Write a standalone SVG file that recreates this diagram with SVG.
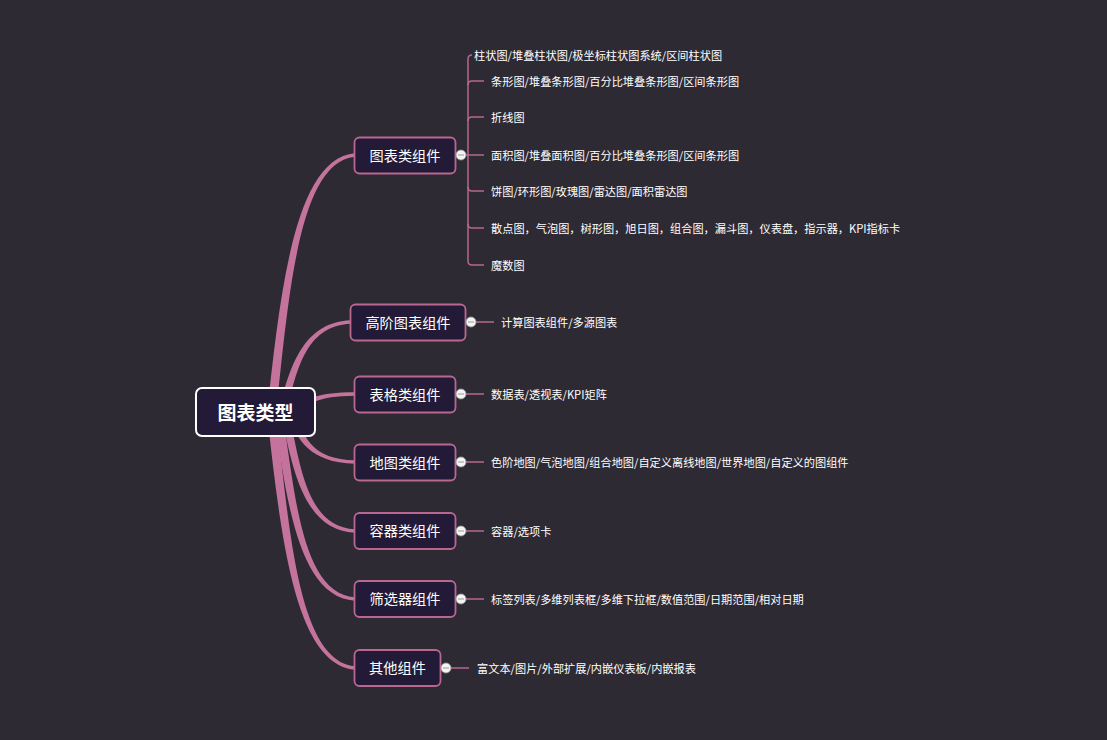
<svg xmlns="http://www.w3.org/2000/svg" width="1107" height="740" viewBox="0 0 1107 740">
<style>
.bg{fill:#2e2a33}
.curve{fill:#c4739c}
.node rect{fill:#221a36;stroke:#b9678f;stroke-width:1.8}
.node text{fill:#ffffff;font-family:"Noto Sans CJK SC","Liberation Sans",sans-serif;font-size:14.2px;text-anchor:middle;dominant-baseline:central}
.root rect{fill:#221a36;stroke:#ffffff;stroke-width:2}
.root text{fill:#ffffff;font-family:"Noto Sans CJK SC","Liberation Sans",sans-serif;font-size:19px;font-weight:bold;text-anchor:middle;dominant-baseline:central}
.leafline{fill:none;stroke:#b9678f;stroke-width:1.5}
.leaf{fill:#ffffff;font-family:"Noto Sans CJK SC","Liberation Sans",sans-serif;font-size:11.2px;dominant-baseline:central}
.knob circle{fill:#f4f4f4;stroke:#9a9a9a;stroke-width:0.8}
.knob line{stroke:#9a9a9a;stroke-width:1}
</style>
<rect class="bg" x="0" y="0" width="1107" height="740"/>

<g id="connectors">
  <path class="curve" d="M266.5,418 C279.9,294.4 293.95,158.5 355,153.3 L355,156.7 C298.45,162.1 288.9,294.4 275.5,418 Z"/>
  <path class="curve" d="M277,418 C288.2,372.9 300,322.2 351,320.3 L351,323.7 C304,325.6 296.2,372.9 285,418 Z"/>
  <path class="curve" d="M300,405 C308.8,398.4 316.5,392.6 355,392.3 L355,395.7 C316.5,396 308.8,404.4 300,411 Z"/>
  <path class="curve" d="M288,418 C298.1,438.7 308.9,462.8 355,463.7 L355,460.3 C312.9,459.4 306.1,438.7 296,418 Z"/>
  <path class="curve" d="M282,418 C293,471.1 304.6,530.4 355,532.7 L355,529.3 C308.8,527 301,471.1 290,418 Z"/>
  <path class="curve" d="M274.6,418 C286.8,503.1 299.6,597.1 355,600.7 L355,597.3 C304,593.7 295.6,503.1 283.4,418 Z"/>
  <path class="curve" d="M267.5,418 C280.8,535.5 294.65,664.7 355,669.7 L355,666.3 C299.15,661.3 289.8,535.5 276.5,418 Z"/>

  <path class="leafline" d="M472,55 Q468,55 468,59 V261 Q468,265 472,265 H484"/>
  <path class="leafline" d="M484,81 H472 Q468,81 468,85"/>
  <path class="leafline" d="M484,117 H472 Q468,117 468,121"/>
  <path class="leafline" d="M466,155 H484"/>
  <path class="leafline" d="M468,187 Q468,191 472,191 H484"/>
  <path class="leafline" d="M468,224 Q468,228 472,228 H484"/>

  <path class="leafline" d="M476,322 H494"/>
  <path class="leafline" d="M466,394 H484"/>
  <path class="leafline" d="M466,462 H484"/>
  <path class="leafline" d="M466,531 H484"/>
  <path class="leafline" d="M466,599 H484"/>
  <path class="leafline" d="M451,668 H469"/>
</g>

<g id="root" class="root">
  <rect x="196" y="388" width="119" height="48" rx="6"/>
  <text x="255.5" y="411.5">图表类型</text>
</g>

<g id="n-chart" class="node">
  <rect x="354.5" y="137.5" width="101" height="36" rx="5"/>
  <text x="405" y="154.5">图表类组件</text>
</g>
<g id="n-advanced" class="node">
  <rect x="350.5" y="304.5" width="115" height="36" rx="5"/>
  <text x="408" y="321.5">高阶图表组件</text>
</g>
<g id="n-table" class="node">
  <rect x="354.5" y="376.5" width="101" height="36" rx="5"/>
  <text x="405" y="393.5">表格类组件</text>
</g>
<g id="n-map" class="node">
  <rect x="354.5" y="444.5" width="101" height="36" rx="5"/>
  <text x="405" y="461.5">地图类组件</text>
</g>
<g id="n-container" class="node">
  <rect x="354.5" y="513" width="101" height="36" rx="5"/>
  <text x="405" y="530">容器类组件</text>
</g>
<g id="n-filter" class="node">
  <rect x="354.5" y="581" width="101" height="36" rx="5"/>
  <text x="405" y="598">筛选器组件</text>
</g>
<g id="n-other" class="node">
  <rect x="354.5" y="650" width="86" height="36" rx="5"/>
  <text x="397.5" y="667">其他组件</text>
</g>

<g id="knobs" class="knob">
  <circle cx="461" cy="155" r="5"/><line x1="458" y1="155" x2="464" y2="155"/>
  <circle cx="471" cy="322" r="5"/><line x1="468" y1="322" x2="474" y2="322"/>
  <circle cx="461" cy="394" r="5"/><line x1="458" y1="394" x2="464" y2="394"/>
  <circle cx="461" cy="462" r="5"/><line x1="458" y1="462" x2="464" y2="462"/>
  <circle cx="461" cy="531" r="5"/><line x1="458" y1="531" x2="464" y2="531"/>
  <circle cx="461" cy="599" r="5"/><line x1="458" y1="599" x2="464" y2="599"/>
  <circle cx="446" cy="668" r="5"/><line x1="443" y1="668" x2="449" y2="668"/>
</g>

<g id="leaves">
  <text id="l1" class="leaf" x="474" y="54.5">柱状图/堆叠柱状图/极坐标柱状图系统/区间柱状图</text>
  <text id="l2" class="leaf" x="491" y="80.5">条形图/堆叠条形图/百分比堆叠条形图/区间条形图</text>
  <text id="l3" class="leaf" x="491" y="116.5">折线图</text>
  <text id="l4" class="leaf" x="491" y="154.5">面积图/堆叠面积图/百分比堆叠条形图/区间条形图</text>
  <text id="l5" class="leaf" x="491" y="190.5">饼图/环形图/玫瑰图/雷达图/面积雷达图</text>
  <text id="l6" class="leaf" x="491" y="227.5">散点图，气泡图，树形图，旭日图，组合图，漏斗图，仪表盘，指示器，KPI指标卡</text>
  <text id="l7" class="leaf" x="491" y="264.5">魔数图</text>
  <text id="l8" class="leaf" x="501" y="321.5">计算图表组件/多源图表</text>
  <text id="l9" class="leaf" x="491" y="393.5">数据表/透视表/KPI矩阵</text>
  <text id="l10" class="leaf" x="491" y="461.5">色阶地图/气泡地图/组合地图/自定义离线地图/世界地图/自定义的图组件</text>
  <text id="l11" class="leaf" x="491" y="530.5">容器/选项卡</text>
  <text id="l12" class="leaf" x="491" y="598.5">标签列表/多维列表框/多维下拉框/数值范围/日期范围/相对日期</text>
  <text id="l13" class="leaf" x="477" y="667.5">富文本/图片/外部扩展/内嵌仪表板/内嵌报表</text>
</g>
</svg>
